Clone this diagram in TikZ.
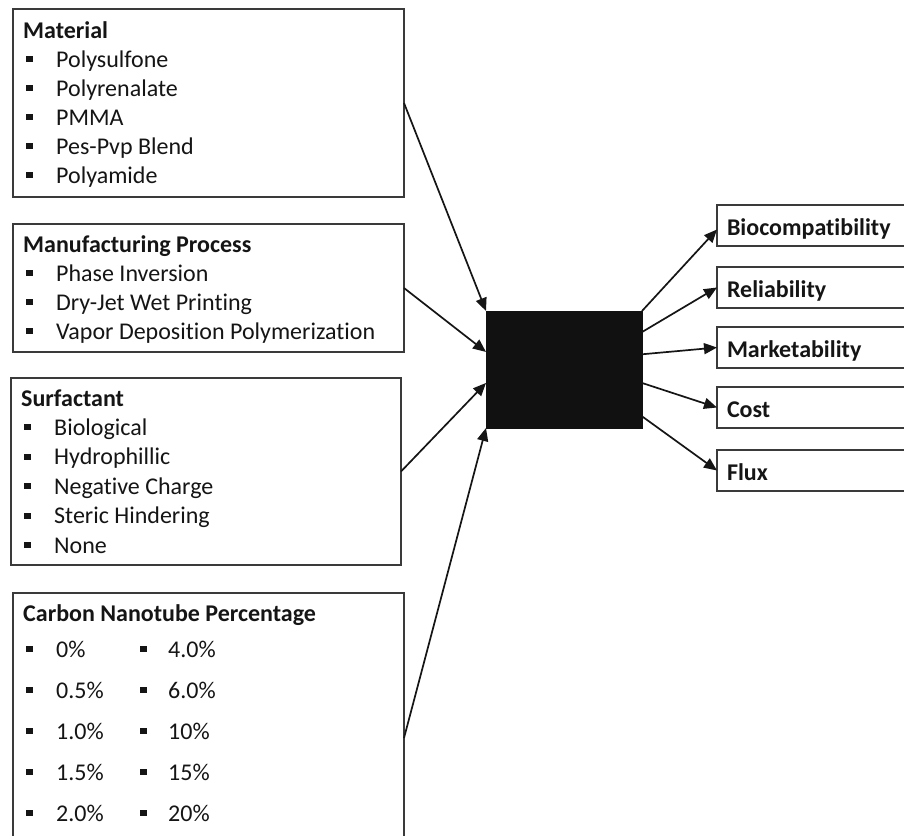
\documentclass[tikz,border=0pt]{standalone}
\usepackage{fontspec}
\setmainfont{Carlito}[Ligatures=NoCommon]
\usetikzlibrary{arrows.meta, calc}
\definecolor{clrFrame}{HTML}{3A3A3A}
\definecolor{clrCore}{HTML}{111111}
\definecolor{clrInk}{HTML}{151515}
\newcommand{\sqbul}{\rule[5pt]{7pt}{6pt}}

\begin{document}
\begin{tikzpicture}[x=1pt, y=-1pt,
    groupbox/.style={rectangle, draw=clrFrame, line width=1.4pt, anchor=north west, inner sep=0pt, outer sep=0pt},
    head/.style={anchor=base west, inner sep=0pt, font=\fontsize{24}{29}\selectfont\bfseries, text=clrInk},
    item/.style={anchor=base west, inner sep=0pt, font=\fontsize{24}{29}\selectfont, text=clrInk},
    core/.style={rectangle, draw=clrCore, fill=clrCore, minimum width=156pt, minimum height=117pt, anchor=north west, inner sep=0pt, outer sep=0pt},
    result/.style={rectangle, draw=clrFrame, line width=1.4pt, anchor=north west, minimum width=210pt, minimum height=41pt, text width=190pt, align=left, inner xsep=10pt, inner ysep=0pt, text height=22pt, text depth=3pt, font=\fontsize{24}{29}\selectfont\bfseries, text=clrInk, outer sep=0pt},
    arrow/.style={-{Triangle[length=13pt, width=11pt]}, line width=1.7pt, clrInk},
]
\useasboundingbox (0,0) rectangle (904,835);
\fill[white] (0,0) rectangle (904,835);
\clip (0,0) rectangle (904,835);

% Input groups
\node[groupbox, minimum width=391pt, minimum height=188pt] (mat) at (13,9) {};
\node[head] (mathead) at (23,38) {Material};
\foreach \txt [count=\i] in {Polysulfone, Polyrenalate, PMMA, Pes-Pvp Blend, Polyamide}
    \node[item] (mat\i) at (26,38+29*\i) {\sqbul\hspace{23pt}\txt};

\node[groupbox, minimum width=391pt, minimum height=128pt] (proc) at (13,224) {};
\node[head] (prochead) at (23,252) {Manufacturing Process};
\foreach \txt [count=\i] in {Phase Inversion, Dry-Jet Wet Printing, Vapor Deposition Polymerization}
    \node[item] (proc\i) at (26,252+29*\i) {\sqbul\hspace{23pt}\txt};

\node[groupbox, minimum width=390pt, minimum height=187pt] (surf) at (11,378) {};
\node[head] (surfhead) at (21,406) {Surfactant};
\foreach \txt [count=\i] in {Biological, Hydrophillic, Negative Charge, Steric Hindering, None}
    \node[item] (surf\i) at (24,406+29.4*\i) {\sqbul\hspace{23pt}\txt};

\node[groupbox, minimum width=391pt, minimum height=290pt] (cnt) at (13,593) {};
\node[head] (cnthead) at (23,621) {Carbon Nanotube Percentage};
\foreach \lo/\hi [count=\i] in {0\%/4.0\%, 0.5\%/6.0\%, 1.0\%/10\%, 1.5\%/15\%, 2.0\%/20\%}{
    \node[item] (cntlo\i) at (26,616+41*\i) {\sqbul\hspace{23pt}\lo};
    \node[item] (cnthi\i) at (140,616+41*\i) {\sqbul\hspace{21pt}\hi};
}

% Black box
\node[core] (core) at (486,311) {};

% Outcomes
\node[result] (bio) at (717,205) {Biocompatibility};
\node[result] (rel) at (717,267) {Reliability};
\node[result] (mkt) at (717,327) {Marketability};
\node[result] (cost) at (717,387) {Cost};
\node[result] (flux) at (717,450) {Flux};

% Inputs into the box
\draw[arrow] (mat.east) -- (core.north west);
\draw[arrow] (proc.east) -- ($(core.north west)!0.35!(core.south west)$);
\draw[arrow] (surf.east) -- ($(core.north west)!0.615!(core.south west)$);
\draw[arrow] (cnt.east) -- (core.south west);

% Box to outcomes
\draw[arrow] (core.north east) -- ([yshift=-4pt]bio.west);
\draw[arrow] ($(core.north east)!0.18!(core.south east)$) -- (rel.west);
\draw[arrow] ($(core.north east)!0.37!(core.south east)$) -- (mkt.west);
\draw[arrow] ($(core.north east)!0.615!(core.south east)$) -- (cost.west);
\draw[arrow] ($(core.north east)!0.9!(core.south east)$) -- (flux.west);

\end{tikzpicture}
\end{document}
